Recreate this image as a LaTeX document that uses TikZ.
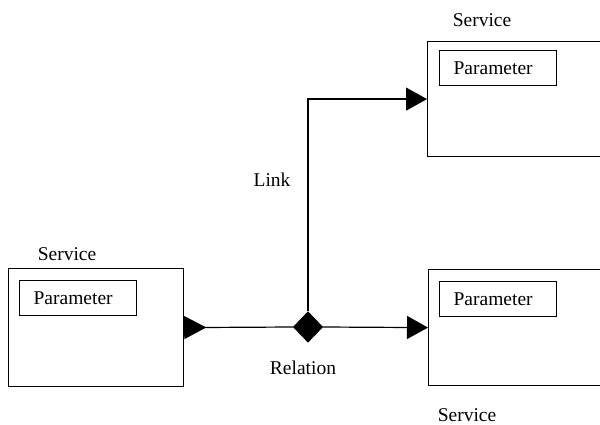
\documentclass[tikz,border=0pt]{standalone}
\usepackage{fontspec}
\setmainfont{Liberation Serif}
\usetikzlibrary{shapes.geometric,arrows.meta}
\begin{document}
\begin{tikzpicture}[x=1pt,y=-1pt,line width=1.2pt,
  every node/.style={font=\fontsize{19.5}{22}\selectfont},
  svcbox/.style={draw,rectangle,inner sep=0pt,anchor=north west},
  parbox/.style={draw,rectangle,inner sep=0pt,anchor=north west,minimum width=117pt,minimum height=35pt},
  lbl/.style={inner sep=0pt},
  ptext/.style={inner sep=0pt,anchor=west,xshift=14pt},
  tri/.style={-{Triangle[length=21pt,width=23pt]}},
  rel/.style={diamond,fill=black,draw=black,inner sep=0pt,minimum width=29pt,minimum height=30pt,
    shape aspect=1}]
\useasboundingbox (0,0) rectangle (600,425);
\clip (0,0) rectangle (600,425);
% service boxes
\node[svcbox,minimum width=175pt,minimum height=118pt] (s1) at (8,268) {};
\node[svcbox,minimum width=200pt,minimum height=115pt] (s2) at (427,41) {};
\node[svcbox,minimum width=200pt,minimum height=116pt] (s3) at (428,269) {};
% parameter boxes
\node[parbox] (p1) at (19,280) {};
\node[ptext] at (p1.west) {Parameter};
\node[parbox] (p2) at (439,50) {};
\node[ptext] at (p2.west) {Parameter};
\node[parbox] (p3) at (439,281) {};
\node[ptext] at (p3.west) {Parameter};
% labels
\node[lbl] (t1) at (67,254) {Service};
\node[lbl] (t2) at (482,20) {Service};
\node[lbl] (t3) at (467,415) {Service};
\node[lbl] (lk) at (272,180) {Link};
\node[lbl] (rl) at (303,368) {Relation};
% relation diamond (the font is cleared so the empty node keeps its set size)
\node[rel,font=\tiny] (r) at (308,327) {};
\coordinate (bend) at (r.north |- s2.west);
\draw[{Triangle[reversed,length=22pt,width=23pt]}-] (s1.east) -- (r.west);
\draw[tri] (r.east) -- (s3.west);
\draw[tri] (r.north) -- (bend) -- (s2.west);
\end{tikzpicture}
\end{document}
